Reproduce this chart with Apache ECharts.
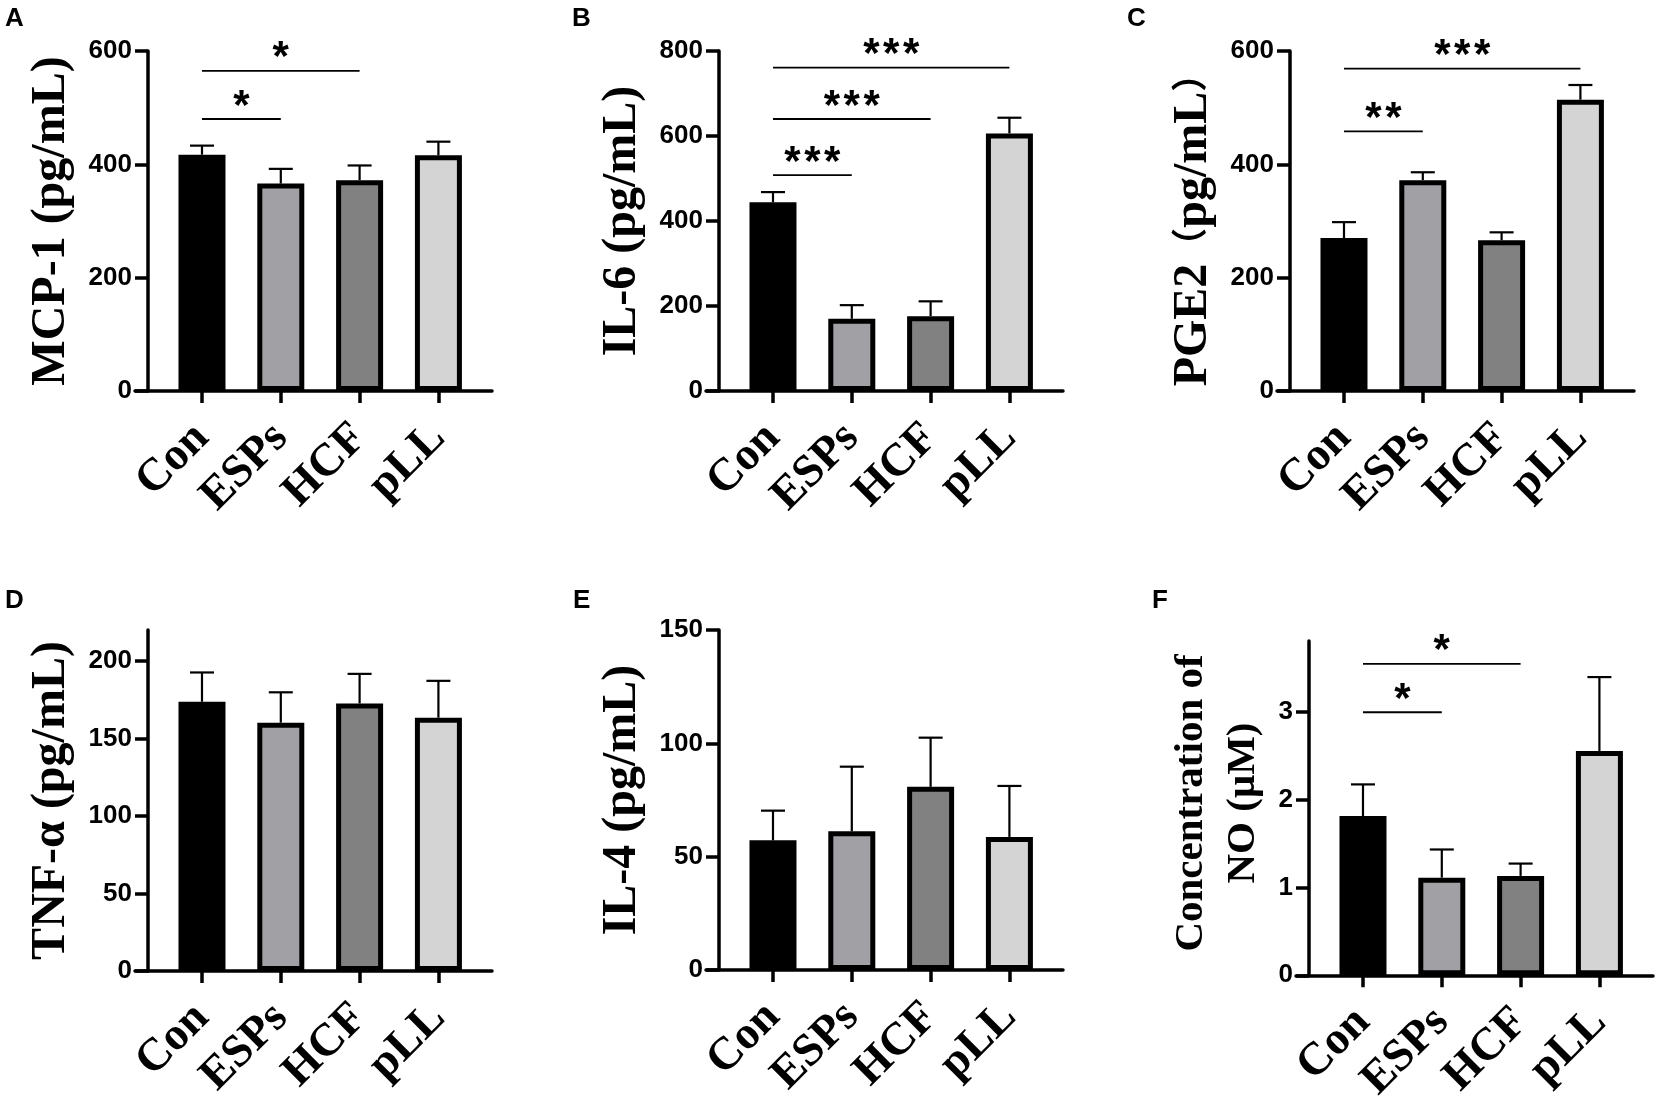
<!DOCTYPE html>
<html>
<head>
<meta charset="utf-8">
<script src="https://cdn.jsdelivr.net/npm/echarts@6.0.0/dist/echarts.min.js"></script>
<style>
  html, body { margin: 0; padding: 0; background: #fff; }
  #chart { width: 1658px; height: 1106px; }
</style>
</head>
<body>
<div id="chart"></div>
<script>
// groups and bar fills
const cats = ['Con', 'ESPs', 'HCF', 'pLL'];
const barColors = ['#000000', '#a1a1a5', '#818181', '#d4d4d4'];

// A: MCP-1
const mcp1Mean = [417, 366, 372, 416];
const mcp1Upper = [433, 392, 398, 440];
const mcp1Ticks = [0, 200, 400, 600];
const mcp1Sig = [[0, 1, 480, '*'], [0, 2, 565, '*']];

// B: IL-6
const il6Mean = [444, 170, 176, 606];
const il6Upper = [468, 202, 211, 643];
const il6Ticks = [0, 200, 400, 600, 800];
const il6Sig = [[0, 1, 508, '***'], [0, 2, 640, '***'], [0, 3, 761, '***']];

// C: PGE2
const pge2Mean = [270, 372, 266, 514];
const pge2Upper = [298, 386, 280, 540];
const pge2Ticks = [0, 200, 400, 600];
const pge2Sig = [[0, 1, 458, '**'], [0, 3, 569, '***']];

// D: TNF-a
const tnfMean = [173.7, 160.2, 172.6, 163.4];
const tnfUpper = [192.6, 179.8, 191.7, 187.2];
const tnfTicks = [0, 50, 100, 150, 200];

// E: IL-4
const il4Mean = [57.2, 61.2, 80.8, 58.7];
const il4Upper = [70.3, 89.7, 102.5, 81.2];
const il4Ticks = [0, 50, 100, 150];

// F: NO
const noMean = [1.81, 1.11, 1.13, 2.55];
const noUpper = [2.17, 1.43, 1.27, 3.39];
const noTicks = [0, 1, 2, 3];
const noSig = [[0, 1, 2.99, '*'], [0, 2, 3.54, '*']];
const noTitle = ['Concentration of', 'NO (μM)'];

const sans = "Arial, 'Liberation Sans', sans-serif";
const serif = "'Times New Roman', 'Liberation Serif', 'Noto Sans CJK SC', serif";

const panels = [
  { letter: 'A', lx: 5, ly: 6, name: 'MCP-1 (pg/mL)', max: 600, ticks: mcp1Ticks, mean: mcp1Mean, upper: mcp1Upper, sig: mcp1Sig, left: 135, top: 51, height: 340 },
  { letter: 'B', lx: 572, ly: 6, name: 'IL-6 (pg/mL)', max: 800, ticks: il6Ticks, mean: il6Mean, upper: il6Upper, sig: il6Sig, left: 706, top: 51, height: 340 },
  // full-width brackets as in the original, set a little smaller
  { letter: 'C', lx: 1127, ly: 6, name: 'PGE2{p|（}pg/mL{p|）}', max: 600, ticks: pge2Ticks, mean: pge2Mean, upper: pge2Upper, sig: pge2Sig, left: 1277, top: 51, height: 340 },
  { letter: 'D', lx: 5, ly: 588, name: 'TNF-α (pg/mL)', max: 220, ticks: tnfTicks, mean: tnfMean, upper: tnfUpper, sig: [], left: 135, top: 630, height: 341 },
  { letter: 'E', lx: 573, ly: 588, name: 'IL-4 (pg/mL)', max: 150, ticks: il4Ticks, mean: il4Mean, upper: il4Upper, sig: [], left: 706, top: 630, height: 340 },
  { letter: 'F', lx: 1152, ly: 588, name: '', max: 3.8, ticks: noTicks, mean: noMean, upper: noUpper, sig: noSig, left: 1296, top: 641, height: 342 }
];

const chart = echarts.init(document.getElementById('chart'));

const grids = [], xAxes = [], yAxes = [], series = [], titles = [];

panels.forEach(function (p, k) {
  titles.push({
    text: p.letter, left: p.lx, top: p.ly, padding: 0,
    textStyle: { fontSize: 26, fontWeight: 'bold', fontFamily: sans, color: '#000' }
  });
  grids.push({ left: p.left, top: p.top, width: 357, height: p.height });
  xAxes.push({
    gridIndex: k, type: 'value', min: -0.85, max: 3.68,
    axisLine: { show: true, onZero: false, lineStyle: { color: '#000', width: 3.5 } },
    axisTick: { show: true, length: 12, customValues: [0, 1, 2, 3], lineStyle: { color: '#000', width: 3.5 } },
    axisLabel: {
      customValues: [0, 1, 2, 3], rotate: 45, margin: 40,
      formatter: function (v) { return cats[Math.round(v)]; },
      color: '#000', fontSize: 46, fontWeight: 'bold', fontFamily: serif
    },
    splitLine: { show: false }
  });
  yAxes.push({
    gridIndex: k, type: 'value', min: 0, max: p.max, position: 'left', offset: -13,
    axisLine: { show: true, onZero: false, lineStyle: { color: '#000', width: 3.5 } },
    axisTick: { show: true, length: 13, customValues: p.ticks, lineStyle: { color: '#000', width: 3.5 } },
    axisLabel: { customValues: p.ticks, margin: 16, color: '#000', fontSize: 26, fontWeight: 'bold', fontFamily: sans },
    splitLine: { show: false },
    name: p.name, nameLocation: 'middle', nameRotate: 90, nameGap: 72,
    nameTextStyle: {
      color: '#000', fontSize: 48, fontWeight: 'bold', fontFamily: serif,
      rich: { p: { color: '#000', fontSize: 36, fontWeight: 'bold', fontFamily: serif } }
    }
  });

  // error bars (upper only)
  series.push({
    type: 'custom', xAxisIndex: k, yAxisIndex: k, z: 1,
    data: p.mean.map(function (m, i) { return [i, m, p.upper[i]]; }),
    renderItem: function (params, api) {
      const a = api.coord([api.value(0), api.value(1)]);
      const b = api.coord([api.value(0), api.value(2)]);
      const st = { stroke: '#000', lineWidth: 2.2 };
      return {
        type: 'group', children: [
          { type: 'line', shape: { x1: a[0], y1: a[1], x2: b[0], y2: b[1] }, style: st },
          { type: 'line', shape: { x1: b[0] - 12, y1: b[1], x2: b[0] + 12, y2: b[1] }, style: st }
        ]
      };
    }
  });

  // bars
  series.push({
    type: 'bar', xAxisIndex: k, yAxisIndex: k, z: 2, barWidth: 47,
    data: p.mean.map(function (m, i) {
      return { value: [i, m], itemStyle: { color: barColors[i], borderColor: '#000', borderWidth: 5 } };
    })
  });

  // significance lines
  if (p.sig.length) {
    const sig = p.sig;
    series.push({
      type: 'custom', xAxisIndex: k, yAxisIndex: k, z: 3,
      data: sig.map(function (s) { return [s[0], s[2]]; }),
      renderItem: function (params, api) {
        const s = sig[params.dataIndex];
        const a = api.coord([s[0], s[2]]);
        const b = api.coord([s[1], s[2]]);
        return {
          type: 'group', children: [
            { type: 'line', shape: { x1: a[0], y1: a[1], x2: b[0], y2: b[1] }, style: { stroke: '#000', lineWidth: 1.8 } },
            {
              type: 'text', x: (a[0] + b[0]) / 2, y: a[1] - 12,
              style: {
                text: s[3].split('').join('\u200a'), fill: '#000',
                fontSize: 42, fontWeight: 'bold', fontFamily: sans,
                align: 'center', verticalAlign: 'middle'
              }
            }
          ]
        };
      }
    });
  }
});

// two-line axis title of panel F, one text per line so each is centred
const noTitleX = [1191, 1243];
const graphics = noTitle.map(function (t, i) {
  return {
    type: 'text', x: noTitleX[i], y: 803, rotation: Math.PI / 2,
    style: {
      text: t, fill: '#000', fontSize: 41, fontWeight: 'bold', fontFamily: serif,
      align: 'center', verticalAlign: 'middle'
    }
  };
});

chart.setOption({
  animation: false,
  backgroundColor: '#fff',
  title: titles,
  grid: grids,
  xAxis: xAxes,
  yAxis: yAxes,
  series: series,
  graphic: graphics
});
</script>
</body>
</html>
